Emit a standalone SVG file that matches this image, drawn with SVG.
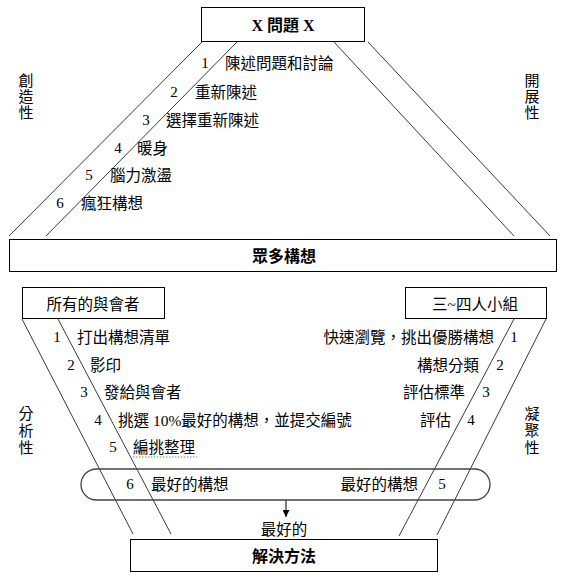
<svg xmlns="http://www.w3.org/2000/svg" width="566" height="580" viewBox="0 0 566 580">
<style>
.box{fill:#fff;stroke:#000;stroke-width:1}
.ln{stroke:#3a3a3a;stroke-width:1;fill:none}
.t{font-family:"Liberation Serif","Noto Sans CJK TC",serif;font-size:15.5px;fill:#000;dominant-baseline:central}
.n{font-family:"Liberation Serif","Noto Sans CJK TC",serif;font-size:15px;fill:#000;dominant-baseline:central;text-anchor:middle}
.b{font-family:"Liberation Serif","Noto Sans CJK TC",serif;font-size:16px;font-weight:bold;fill:#000;dominant-baseline:central;text-anchor:middle}
.v{font-family:"Liberation Serif","Noto Sans CJK TC",serif;font-size:15px;fill:#000;dominant-baseline:central;text-anchor:middle}
</style>
<defs>
<marker id="ah" viewBox="0 0 10 10" refX="10" refY="5" markerWidth="7" markerHeight="7" markerUnits="userSpaceOnUse" orient="auto">
<path d="M0,0 L10,5 L0,10 z" fill="#000"/>
</marker>
</defs>
<rect width="566" height="580" fill="#fff"/>

<g id="connectors">
<line class="ln" x1="202" y1="42" x2="9" y2="236"/>
<line class="ln" x1="237" y1="42" x2="46" y2="236"/>
<line class="ln" x1="334" y1="42" x2="514" y2="236"/>
<line class="ln" x1="368" y1="42" x2="550" y2="236"/>
<line class="ln" x1="22" y1="319" x2="133" y2="534"/>
<line class="ln" x1="58" y1="319" x2="171" y2="534"/>
<line class="ln" x1="514" y1="319" x2="399" y2="536"/>
<line class="ln" x1="546" y1="319" x2="437" y2="535"/>
<line x1="286" y1="500" x2="286" y2="517" stroke="#000" stroke-width="1" marker-end="url(#ah)"/>
</g>

<g id="node-problem">
<rect class="box" x="201.5" y="7.5" width="163" height="34"/>
<text class="b" x="283" y="25">X 問題 X</text>
</g>

<g id="label-creative">
<text class="v" x="26" y="81">創</text>
<text class="v" x="26" y="97">造</text>
<text class="v" x="26" y="113">性</text>
</g>
<g id="label-expand">
<text class="v" x="532" y="81">開</text>
<text class="v" x="532" y="97">展</text>
<text class="v" x="532" y="113">性</text>
</g>

<g id="steps-top">
<text class="n" x="205" y="63">1</text><text class="t" x="225" y="63">陳述問題和討論</text>
<text class="n" x="174" y="92">2</text><text class="t" x="195" y="92">重新陳述</text>
<text class="n" x="146" y="120">3</text><text class="t" x="166" y="120">選擇重新陳述</text>
<text class="n" x="118" y="148">4</text><text class="t" x="137" y="148">暖身</text>
<text class="n" x="89" y="175">5</text><text class="t" x="110" y="175">腦力激盪</text>
<text class="n" x="60" y="203">6</text><text class="t" x="81" y="203">瘋狂構想</text>
</g>

<g id="node-ideas">
<rect class="box" x="9.5" y="239.5" width="547" height="32"/>
<text class="b" x="284" y="256">眾多構想</text>
</g>

<g id="node-all">
<rect class="box" x="22.5" y="287.5" width="142" height="31"/>
<text class="t" x="93" y="304" text-anchor="middle">所有的與會者</text>
</g>

<g id="node-group">
<rect class="box" x="405.5" y="287.5" width="141" height="31"/>
<text class="t" x="475" y="304" text-anchor="middle">三~四人小組</text>
</g>

<g id="label-analysis">
<text class="v" x="26" y="414">分</text>
<text class="v" x="26" y="431">析</text>
<text class="v" x="26" y="448">性</text>
</g>
<g id="label-converge">
<text class="v" x="532" y="414">凝</text>
<text class="v" x="532" y="431">聚</text>
<text class="v" x="532" y="448">性</text>
</g>

<g id="steps-left">
<text class="n" x="57" y="337">1</text><text class="t" x="77" y="337">打出構想清單</text>
<text class="n" x="71" y="365">2</text><text class="t" x="90" y="365">影印</text>
<text class="n" x="84" y="392">3</text><text class="t" x="104" y="392">發給與會者</text>
<text class="n" x="98" y="420">4</text><text class="t" x="118" y="420">挑選 10%最好的構想，並提交編號</text>
<text class="n" x="113" y="447">5</text><text class="t" x="133" y="447">編挑整理</text>
<path d="M133,457 L197,457" stroke="#4a4" stroke-width="1" stroke-dasharray="1.5 1.5"/>
</g>

<g id="steps-right">
<text class="t" x="494" y="337" text-anchor="end">快速瀏覽，挑出優勝構想</text><text class="n" x="514" y="337">1</text>
<text class="t" x="479" y="365" text-anchor="end">構想分類</text><text class="n" x="500" y="365">2</text>
<text class="t" x="465" y="392" text-anchor="end">評估標準</text><text class="n" x="486" y="392">3</text>
<text class="t" x="451" y="420" text-anchor="end">評估</text><text class="n" x="471" y="420">4</text>
</g>

<g id="node-best">
<rect x="81" y="469" width="409" height="31" rx="15.5" ry="15.5" fill="none" stroke="#444" stroke-width="1.3"/>
<text class="n" x="130" y="484">6</text><text class="t" x="151" y="484">最好的構想</text>
<text class="t" x="418" y="484" text-anchor="end">最好的構想</text><text class="n" x="442" y="484">5</text>
</g>

<g id="label-best">
<text class="t" x="284" y="529" text-anchor="middle">最好的</text>
</g>

<g id="node-solution">
<rect class="box" x="130.5" y="539.5" width="307" height="32"/>
<text class="b" x="284" y="556">解決方法</text>
</g>
</svg>
